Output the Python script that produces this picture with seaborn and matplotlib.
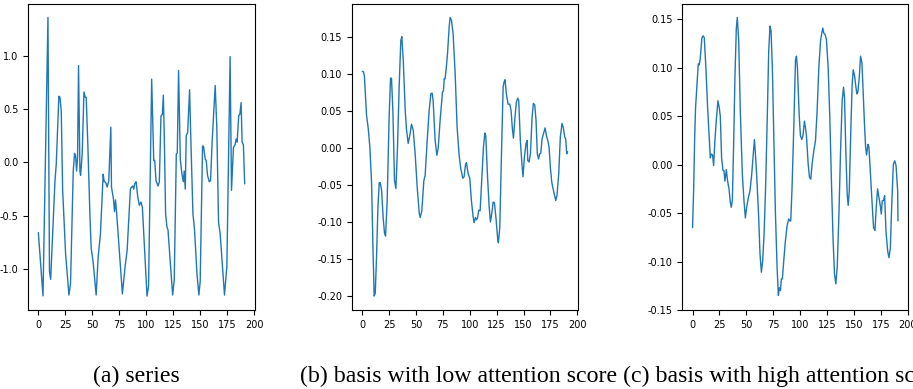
import numpy as np
import pandas as pd
import matplotlib
matplotlib.use("Agg")
import matplotlib.pyplot as plt
import seaborn as sns

# (a) series - key points (index, value)
series_x = [0, 4.3, 8.9, 10.3, 11.4, 15.4, 16.6, 19, 20, 21.2, 22.5, 25.2, 28.3, 29.8,
            32.3, 33.5, 34.5, 35.4, 36.3, 37.2, 38.5, 39.1, 40.6, 42.2, 43.4, 44.3,
            45.8, 47.7, 48.9, 50.8, 53.5, 55.4, 57.5, 60, 60.9, 62.5, 63.7, 65.2,
            67.1, 67.7, 69.5, 70.5, 71.4, 72.3, 77.8, 80.3, 82.2, 85.2, 86.2, 87.4,
            88.3, 89.2, 90.5, 92, 93.5, 95, 96.3, 100.6, 102, 104.9, 106.8, 107.7,
            108.9, 110.8, 112, 113.5, 114.8, 115.7, 116.6, 117.8, 119, 120, 124.3,
            125.8, 127.7, 128.6, 129.8, 131.4, 132.9, 134.2, 135, 136, 136.9, 138.2,
            140, 141.2, 143.1, 144.6, 146.8, 148.6, 149.8, 152, 152.9, 154.5, 155.4,
            156.6, 158.2, 159.4, 160.9, 163.7, 165.2, 166.8, 168.3, 172.3, 174.5,
            177.5, 178.8, 180.6, 182.2, 183, 184, 185.5, 186.5, 187.7, 188.6, 189.8, 191]
series_y = [-0.656, -1.248, 1.357, -1.02, -1.093, -0.17, -0.01, 0.62, 0.61, 0.48, -0.26,
            -0.85, -1.24, -1.13, -0.08, 0.085, 0.06, -0.08, 0.05, 0.907, -0.08, -0.12,
            0.08, 0.66, 0.61, 0.61, 0.17, -0.48, -0.80, -0.94, -1.24, -0.88, -0.665,
            -0.11, -0.175, -0.19, -0.23, -0.17, 0.33, -0.23, -0.34, -0.46, -0.35,
            -0.45, -1.23, -0.975, -0.82, -0.25, -0.23, -0.22, -0.25, -0.20, -0.18,
            -0.32, -0.40, -0.37, -0.42, -1.25, -1.16, 0.78, 0.02, 0.02, -0.17, -0.22,
            -0.18, 0.435, 0.45, 0.63, 0.23, -0.48, -0.60, -0.63, -1.24, -1.10, 0.08,
            0.09, 0.86, 0.03, -0.11, -0.18, -0.08, -0.25, 0.25, 0.28, 0.68, 0.20,
            -0.48, -0.63, -1.04, -1.24, -1.115, 0.155, 0.15, 0.03, 0.02, -0.12, -0.18,
            -0.17, 0.20, 0.72, 0.33, -0.56, -0.665, -1.24, -0.975, 0.99, -0.26, 0.14,
            0.17, 0.22, 0.19, 0.44, 0.45, 0.56, 0.19, 0.165, -0.20]

# (b) basis with low attention score
low_x = [0, 1, 2, 3.1, 4, 5.6, 7.1, 8.7, 10.2, 11.1, 12.1, 13.3, 14.6, 15.8, 16.7, 18,
         19.5, 20.7, 21.7, 23.2, 25, 26.3, 27.2, 28.5, 30, 31.3, 32.8, 34.4, 35.9,
         36.8, 38.1, 40, 41.2, 42.7, 44.3, 45.8, 47.4, 49.2, 51.1, 53, 53.9, 55.4,
         57.3, 58.5, 60.4, 62.2, 63.8, 65, 65.9, 67.8, 69.4, 70.6, 72.4, 74.6, 75.5,
         76.2, 77, 78, 79.3, 80.8, 81.7, 83, 84.5, 86.4, 88.2, 90.1, 91.6, 93.5, 94.7,
         96, 96.9, 98.5, 100, 101.5, 103.1, 104, 105.3, 106.2, 107.1, 108.4, 109.6,
         111.1, 112.7, 114, 114.9, 116.5, 118, 119.2, 120.4, 121.7, 122.9, 124.5, 126,
         126.6, 127.9, 129.4, 131, 131.9, 132.8, 134, 135.6, 137.2, 138.4, 139.6,
         140.6, 141.8, 143.3, 144.6, 145.5, 147, 148.6, 149.5, 150.8, 152.3, 153.3,
         153.9, 155.1, 156.4, 157.9, 159.1, 160.4, 161.6, 162.8, 164, 165, 166, 167.2,
         168.7, 170, 171.2, 172.8, 173.7, 174.9, 176.2, 177.4, 178.6, 179.9, 181.1,
         182.7, 184.2, 185.8, 187, 188.2, 189.2, 190.1, 191]
low_y = [0.103, 0.103, 0.0975, 0.068, 0.044, 0.026, 0.001, -0.048, -0.149, -0.200, -0.196,
         -0.147, -0.080, -0.047, -0.047, -0.057, -0.095, -0.115, -0.119, -0.071, 0.041,
         0.094, 0.094, 0.050, -0.044, -0.055, 0.001, 0.086, 0.145, 0.150, 0.12, 0.050,
         0.024, 0.006, 0.017, 0.032, 0.024, -0.008, -0.053, -0.088, -0.094, -0.085,
         -0.044, -0.037, 0.010, 0.050, 0.073, 0.074, 0.064, 0.010, -0.010, -0.001,
         0.037, 0.075, 0.077, 0.093, 0.093, 0.106, 0.127, 0.1625, 0.176, 0.172, 0.154,
         0.100, 0.028, -0.010, -0.028, -0.041, -0.039, -0.023, -0.020, -0.035, -0.041,
         -0.071, -0.093, -0.101, -0.094, -0.097, -0.095, -0.084, -0.085, -0.044, 0.001,
         0.020, 0.016, -0.039, -0.079, -0.100, -0.089, -0.073, -0.074, -0.097, -0.124,
         -0.128, -0.107, -0.012, 0.082, 0.089, 0.092, 0.073, 0.059, 0.059, 0.050,
         0.026, 0.013, 0.037, 0.062, 0.067, 0.064, 0.010, -0.024, -0.039, -0.012,
         0.006, 0.010, -0.017, -0.019, -0.008, 0.041, 0.060, 0.058, 0.037, -0.008,
         -0.015, -0.008, -0.007, 0.012, 0.020, 0.027, 0.017, 0.008, 0.001, -0.026,
         -0.046, -0.055, -0.063, -0.071, -0.064, -0.035, 0.015, 0.033, 0.027, 0.015,
         0.012, -0.008, -0.005]

# (c) basis with high attention score
high_x = [0, 1, 1.9, 2.8, 4, 5.3, 6.2, 7.1, 8.7, 9.9, 10.9, 12.4, 14, 15.5, 16.5, 17.4,
          18.6, 19.6, 20.8, 22, 23.6, 24.8, 25.8, 27, 28.3, 29.2, 30.1, 31.4, 32.6,
          33.9, 35.1, 36, 37, 38.2, 39.4, 40.7, 41.6, 42.9, 44.4, 46.3, 47.8, 49.1,
          50.3, 51.9, 53.4, 55, 56.2, 57.5, 58.7, 59.9, 61.5, 62.7, 64, 65.2, 66.5, 68,
          69.6, 70.8, 72, 73, 74.2, 75.5, 77, 78.6, 79.8, 80.7, 81.7, 82.6, 83.5, 84.8,
          86.3, 87.9, 89.4, 90.4, 91.3, 92.5, 94.1, 95.7, 96.6, 97.5, 99.1, 100.3,
          101.6, 102.8, 104, 105, 105.9, 107.5, 108.7, 109.9, 111.2, 112.7, 114.3,
          115.8, 117.4, 119, 120.2, 121.1, 122, 123.3, 124.5, 126.1, 127.6, 129.2,
          130.7, 132, 133.2, 134.5, 136, 137.6, 139.1, 140.4, 141.3, 142.5, 143.8,
          144.7, 145.7, 147.2, 148.4, 149.4, 150.6, 151.9, 152.8, 153.7, 155, 156.2,
          157.5, 158.7, 160, 160.9, 161.8, 163.1, 164, 165.2, 166.8, 168.3, 169.6,
          170.8, 172, 173.3, 174.5, 175.5, 176.4, 177.6, 178.6, 179.8, 181.4, 182.6,
          183.9, 185.1, 186.7, 188, 189.2, 190.7, 191]
high_y = [-0.065, -0.027, 0.025, 0.059, 0.080, 0.104, 0.103, 0.109, 0.131, 0.133, 0.131,
          0.100, 0.059, 0.028, 0.007, 0.011, 0.010, -0.001, 0.025, 0.045, 0.066, 0.059,
          0.050, 0.007, -0.006, -0.006, -0.017, -0.005, -0.017, -0.025, -0.039, -0.044,
          -0.037, 0.021, 0.090, 0.141, 0.152, 0.128, 0.055, -0.010, -0.037, -0.055,
          -0.044, -0.034, -0.027, -0.010, 0.007, 0.026, 0.007, -0.017, -0.055, -0.092,
          -0.111, -0.099, -0.072, -0.020, 0.055, 0.117, 0.143, 0.138, 0.100, 0.031,
          -0.048, -0.106, -0.135, -0.127, -0.130, -0.118, -0.118, -0.099, -0.079,
          -0.063, -0.056, -0.058, -0.058, -0.024, 0.038, 0.108, 0.112, 0.100, 0.052,
          0.030, 0.026, 0.031, 0.045, 0.038, 0.030, 0.0005, -0.013, -0.015, 0.001,
          0.014, 0.025, 0.055, 0.100, 0.128, 0.136, 0.141, 0.136, 0.134, 0.129, 0.100,
          0.049, -0.020, -0.079, -0.113, -0.123, -0.106, -0.055, 0.014, 0.066, 0.080,
          0.069, 0.014, -0.031, -0.042, -0.027, 0.038, 0.083, 0.098, 0.092, 0.080,
          0.073, 0.075, 0.090, 0.112, 0.105, 0.073, 0.038, 0.018, 0.010, 0.021, 0.018,
          -0.006, -0.037, -0.065, -0.068, -0.044, -0.025, -0.034, -0.042, -0.051,
          -0.037, -0.037, -0.032, -0.068, -0.089, -0.096, -0.086, -0.044, 0.0005,
          0.004, -0.001, -0.027, -0.058]

captions = ['(a) series', '(b) basis with low attention score',
            '(c) basis with high attention score']

sns.set_style('white')
plt.rcParams['font.family'] = ['DejaVu Sans']

fig = plt.figure(figsize=(9.13, 3.89), dpi=100)
# axes boxes (left, bottom, width, height)
boxes = [(0.0307, 0.203, 0.2486, 0.788),
         (0.3855, 0.203, 0.2475, 0.788),
         (0.7473, 0.203, 0.2475, 0.788)]
data = [(series_x, series_y), (low_x, low_y), (high_x, high_y)]
yticks = [[-1.0, -0.5, 0.0, 0.5, 1.0],
          [-0.20, -0.15, -0.10, -0.05, 0.00, 0.05, 0.10, 0.15],
          [-0.15, -0.10, -0.05, 0.00, 0.05, 0.10, 0.15]]
yfmt = ['{:.1f}', '{:.2f}', '{:.2f}']

for box, (xs, ys), yt, fmt in zip(boxes, data, yticks, yfmt):
    ax = fig.add_axes(box)
    df = pd.DataFrame({'t': xs, 'v': ys})
    sns.lineplot(data=df, x='t', y='v', ax=ax, color='#1f77b4', linewidth=1.0)
    ax.set_xlim(-9.55, 200.55)
    ax.set_xticks([0, 25, 50, 75, 100, 125, 150, 175, 200])
    ax.set_yticks(yt)
    ax.set_yticklabels([fmt.format(v) for v in yt])
    ax.set_xlabel('')
    ax.set_ylabel('')
    ax.tick_params(labelsize=7, length=3.5, width=0.8, color='black',
                   labelcolor='black', direction='out', bottom=True, left=True)
    for sp in ax.spines.values():
        sp.set_visible(True)
        sp.set_color('black')
        sp.set_linewidth(0.8)

# captions: (a) alone, (b) and (c) run on one line and (c) runs off the edge
cap_y = 1 - 376 / 389
serif = ['Liberation Serif', 'DejaVu Serif']
fig.text(93 / 913, cap_y, captions[0], ha='left', va='center', fontsize=17.2,
         family=serif, color='black')
fig.text(300 / 913, cap_y, captions[1] + ' ' + captions[2], ha='left', va='center',
         fontsize=17.2, family=serif, color='black')

fig.savefig('out.png', dpi=100)
